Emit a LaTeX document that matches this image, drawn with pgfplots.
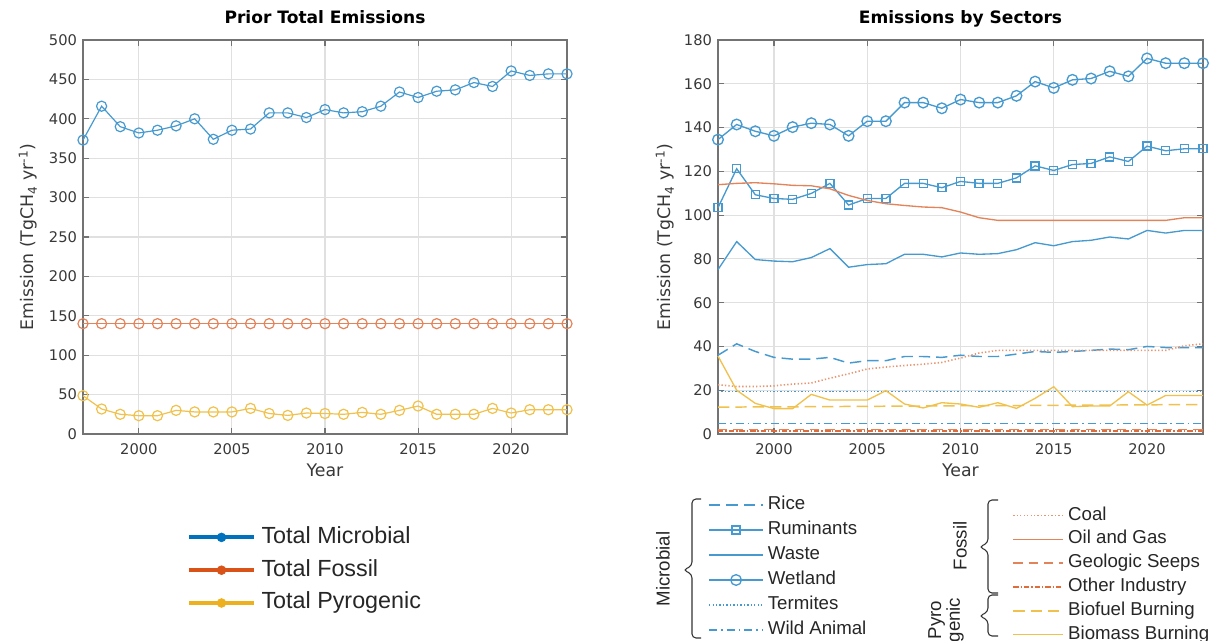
\documentclass[border=0pt]{standalone}
\usepackage{fontspec}
\setmainfont{DejaVu Sans}
\newfontfamily\legfont{Liberation Sans}
\usepackage{pgfplots}
\pgfplotsset{compat=1.18}
\usepackage{pgfplotstable}

\definecolor{mblue}{rgb}{0,0.447,0.741}
\definecolor{mred}{rgb}{0.85,0.325,0.098}
\definecolor{myel}{rgb}{0.929,0.694,0.125}
\colorlet{pblue}{mblue!72!white}
\colorlet{pred}{mred!72!white}
\colorlet{pyel}{myel!80!white}
\colorlet{axgray}{black!55}
\colorlet{tickgray}{black!78}

\pgfplotstableread{
year micro fossil pyro
1997 373   140 48.6
1998 416   140 31.7
1999 390   140 25.0
2000 382   140 23.2
2001 385.5 140 23.2
2002 391   140 30.0
2003 400   140 28.0
2004 374   140 28.0
2005 385.5 140 28.0
2006 387   140 32.5
2007 407.5 140 26.0
2008 407.5 140 23.6
2009 401.6 140 26.6
2010 411.7 140 26.0
2011 407.5 140 25.0
2012 409   140 27.4
2013 416   140 25.0
2014 434   140 30.0
2015 427   140 35.5
2016 435   140 25.0
2017 436.7 140 25.0
2018 446   140 25.0
2019 441   140 32.5
2020 460.7 140 26.6
2021 455   140 30.8
2022 457   140 30.8
2023 457   140 30.8
}\totals

\pgfplotstableread{
year rice rum waste wet term wild coal oil seep other biofuel biomass
1997 36.0 103.4 75.1 134.5 19.4 4.9 22.5 113.9 2.0 1.2 12.3 35.6
1998 41.2 121.2 87.9 141.4 19.4 4.9 21.7 114.5 2.0 1.2 12.3 20.0
1999 37.7 109.3 79.7 138.3 19.4 4.9 21.7 114.8 2.0 1.2 12.4 14.0
2000 35.0 107.6 79.0 136.2 19.4 4.9 22.0 114.3 2.0 1.2 12.4 11.6
2001 34.2 107.2 78.7 140.2 19.4 4.9 22.8 113.6 2.0 1.2 12.4 11.6
2002 34.2 109.9 80.6 142.0 19.4 4.9 23.3 113.4 2.0 1.2 12.5 18.1
2003 35.0 114.5 84.7 141.4 19.4 4.9 25.5 112.0 2.0 1.2 12.5 15.5
2004 32.4 104.6 76.2 136.2 19.4 4.9 27.5 109.0 2.0 1.2 12.6 15.5
2005 33.5 107.6 77.4 142.9 19.4 4.9 29.7 106.7 2.0 1.2 12.6 15.5
2006 33.5 107.6 77.8 142.9 19.4 4.9 30.6 105.2 2.0 1.2 12.7 19.8
2007 35.4 114.5 82.1 151.4 19.4 4.9 31.3 104.4 2.0 1.2 12.7 13.7
2008 35.4 114.5 82.1 151.4 19.4 4.9 31.9 103.7 2.0 1.2 12.8 11.9
2009 35.0 112.5 80.9 148.8 19.4 4.9 32.7 103.4 2.0 1.2 12.8 14.3
2010 36.0 115.4 82.7 152.8 19.4 4.9 34.7 101.4 2.0 1.2 12.9 13.7
2011 35.4 114.5 82.1 151.4 19.4 4.9 37.0 98.8  2.0 1.2 12.9 12.2
2012 35.4 114.5 82.4 151.4 19.4 4.9 38.2 97.6  2.0 1.2 13.0 14.3
2013 36.5 117.0 84.2 154.5 19.4 4.9 38.2 97.6  2.0 1.2 13.0 11.7
2014 37.7 122.5 87.4 161.0 19.4 4.9 38.2 97.6  2.0 1.2 13.1 16.3
2015 37.3 120.4 86.0 158.1 19.4 4.9 38.2 97.6  2.0 1.2 13.1 21.6
2016 37.7 123.1 87.9 161.8 19.4 4.9 38.2 97.6  2.0 1.2 13.2 12.5
2017 38.2 123.6 88.5 162.4 19.4 4.9 38.2 97.6  2.0 1.2 13.2 12.8
2018 38.8 126.6 90.0 165.7 19.4 4.9 38.2 97.6  2.0 1.2 13.2 12.8
2019 38.5 124.5 89.1 163.4 19.4 4.9 38.2 97.6  2.0 1.2 13.3 19.3
2020 40.0 131.5 93.0 171.6 19.4 4.9 38.2 97.6  2.0 1.2 13.3 13.2
2021 39.5 129.4 91.8 169.4 19.4 4.9 38.2 97.6  2.0 1.2 13.4 17.6
2022 39.5 130.3 93.0 169.4 19.4 4.9 40.3 98.8  2.0 1.2 13.4 17.6
2023 39.5 130.3 93.0 169.4 19.4 4.9 41.2 98.8  2.0 1.2 13.4 17.6
}\sectors

\pgfplotsset{
  matax/.style={
    scale only axis, anchor=north west,
    width=363pt, height=295.5pt,
    xmin=1997, xmax=2023,
    xtick={2000,2005,2010,2015,2020},
    grid=major,
    major grid style={black!12, line width=0.8pt},
    axis line style={axgray, line width=1.1pt},
    tick style={axgray, line width=0.8pt},
    major tick length=4.5pt,
    tick align=inside, tick pos=both,
    clip=false,
    ticklabel style={font=\fontsize{11}{13}\selectfont, text=tickgray},
    /pgf/number format/assume math mode=true,
    xticklabel style={/pgf/number format/1000 sep={}, yshift=-4pt},
    yticklabel style={xshift=-1pt},
    xlabel={Year},
    ylabel={Emission (TgCH\textsubscript{4} yr\textsuperscript{-1})},
    label style={font=\fontsize{13}{15}\selectfont, text=tickgray},
    xlabel style={at={(axis description cs:0.5,-0.0914)}, anchor=center},
    title style={at={(axis description cs:0.5,1.0228)}, anchor=base, yshift=0pt, font=\bfseries\fontsize{12.8}{15}\selectfont},
  },
  legbase/.style={
    legend cell align=left,
    legend style={draw=none, fill=none, inner sep=0pt, text=black!85},
  },
}

\begin{document}
\begin{tikzpicture}
\useasboundingbox (0,0) rectangle (907.5pt,-480.75pt);

% ---------------- Left: totals ----------------
\begin{axis}[matax, legbase,
  at={(62.25pt,-30pt)},
  ymin=0, ymax=500, ytick={0,50,...,500},
  title={Prior Total Emissions},
  ylabel style={at={(axis description cs:-0.1136,0.5)}, anchor=center},
  legend image code/.code={\draw[mark repeat=2,mark phase=2,#1] plot coordinates {(0pt,0pt) (24.5pt,0pt) (49pt,0pt)};},
  legend style={at={(0.214,-0.233)}, anchor=north west,
    font=\legfont\fontsize{17.5}{20}\selectfont, row sep=7.6pt,
    nodes={inner sep=0pt, text height=13pt, text depth=4pt},
    /tikz/every odd column/.append style={column sep=4pt}},
]
\addlegendimage{mblue, line width=3pt, mark=*, mark size=3.3pt, mark options={solid, line width=0.5pt}}
\addlegendentry{Total Microbial}
\addlegendimage{mred, line width=3pt, mark=*, mark size=3.3pt, mark options={solid, line width=0.5pt}}
\addlegendentry{Total Fossil}
\addlegendimage{myel, line width=3pt, mark=*, mark size=3.3pt, mark options={solid, line width=0.5pt}}
\addlegendentry{Total Pyrogenic}

\addplot[pblue, line width=0.9pt, mark=o, mark size=3.8pt, forget plot] table[x=year, y=micro] {\totals};
\addplot[pred,  line width=0.9pt, mark=o, mark size=3.8pt, forget plot] table[x=year, y=fossil] {\totals};
\addplot[pyel,  line width=0.9pt, mark=o, mark size=3.8pt, forget plot] table[x=year, y=pyro] {\totals};
\end{axis}

% ---------------- Right: sectors (microbial) ----------------
\begin{axis}[matax, legbase,
  at={(538.5pt,-30pt)}, width=363.75pt,
  ymin=0, ymax=180, ytick={0,20,...,180},
  title={Emissions by Sectors},
  ylabel style={at={(axis description cs:-0.1093,0.5)}, anchor=center},
  legend image code/.code={\draw[mark repeat=2,mark phase=2,#1] plot coordinates {(0pt,0pt) (20.25pt,0pt) (40.5pt,0pt)};},
  legend style={at={(-0.0206,-0.157)}, anchor=north west,
    font=\legfont\fontsize{14}{16}\selectfont, row sep=5.8pt,
    nodes={inner sep=0pt, text height=10pt, text depth=3pt},
    /tikz/every odd column/.append style={column sep=3pt}},
]
\addplot[pblue, line width=1.1pt, dash pattern=on 8.5pt off 4.5pt] table[x=year, y=rice] {\sectors};
\addlegendentry{Rice}
\addplot[pblue, line width=1pt, mark=square, mark size=3pt, mark options={solid}] table[x=year, y=rum] {\sectors};
\addlegendentry{Ruminants}
\addplot[pblue, line width=1pt] table[x=year, y=waste] {\sectors};
\addlegendentry{Waste}
\addplot[pblue, line width=1pt, mark=o, mark size=4pt, mark options={solid}] table[x=year, y=wet] {\sectors};
\addlegendentry{Wetland}
\addplot[pblue, line width=1.2pt, dash pattern=on 1pt off 1.6pt] table[x=year, y=term] {\sectors};
\addlegendentry{Termites}
\addplot[pblue, line width=1pt, dash pattern=on 6pt off 3pt on 1.2pt off 3pt] table[x=year, y=wild] {\sectors};
\addlegendentry{Wild Animal}
\end{axis}

% ---------------- Right: sectors (fossil + pyrogenic overlay) ----------------
\begin{axis}[matax, legbase, hide axis,
  at={(538.5pt,-30pt)}, width=363.75pt,
  ymin=0, ymax=180,
  legend image code/.code={\draw[mark repeat=2,mark phase=2,#1] plot coordinates {(0pt,0pt) (18.75pt,0pt) (37.5pt,0pt)};},
  legend style={at={(0.606,-0.184)}, anchor=north west,
    font=\legfont\fontsize{14}{16}\selectfont, row sep=4.9pt,
    nodes={inner sep=0pt, text height=10pt, text depth=3pt},
    /tikz/every odd column/.append style={column sep=3pt}},
]
\addplot[pred!85!white, line width=1.2pt, dash pattern=on 1pt off 1.6pt] table[x=year, y=coal] {\sectors};
\addlegendentry{Coal}
\addplot[pred, line width=1pt] table[x=year, y=oil] {\sectors};
\addlegendentry{Oil and Gas}
\addplot[pred, line width=1.1pt, dash pattern=on 7pt off 4.5pt] table[x=year, y=seep] {\sectors};
\addlegendentry{Geologic Seeps}
\addplot[mred!85!white, line width=1.5pt, dash pattern=on 4pt off 1.5pt on 1pt off 1.5pt] table[x=year, y=other] {\sectors};
\addlegendentry{Other Industry}
\addplot[pyel, line width=1.1pt, dash pattern=on 8.5pt off 4.5pt] table[x=year, y=biofuel] {\sectors};
\addlegendentry{Biofuel Burning}
\addplot[pyel, line width=1pt] table[x=year, y=biomass] {\sectors};
\addlegendentry{Biomass Burning}
\end{axis}

% ---------------- Legend braces and group labels ----------------
\begin{scope}[x=0.75pt, y=-0.75pt, line width=0.8pt, black!80]
\draw[rounded corners=3pt] (701,499) -- (692,499) -- (692,566) -- (683,570) -- (692,574) -- (692,638) -- (701,638);
\draw[rounded corners=3pt] (998,500) -- (988,500) -- (988,543) -- (979,547) -- (988,551) -- (988,593) -- (998,593);
\draw[rounded corners=3pt] (998,595) -- (988,595) -- (988,612) -- (979,616) -- (988,620) -- (988,636) -- (998,636);
\node[rotate=90, text=black!85, font=\legfont\fontsize{14}{16}\selectfont] at (663,569) {Microbial};
\node[rotate=90, text=black!85, font=\legfont\fontsize{14}{16}\selectfont] at (960,546) {Fossil};
\node[rotate=90, text=black!85, align=center, font=\legfont\fontsize{14}{13}\selectfont] at (946,620) {Pyro\\genic};
\end{scope}
\end{tikzpicture}
\end{document}
